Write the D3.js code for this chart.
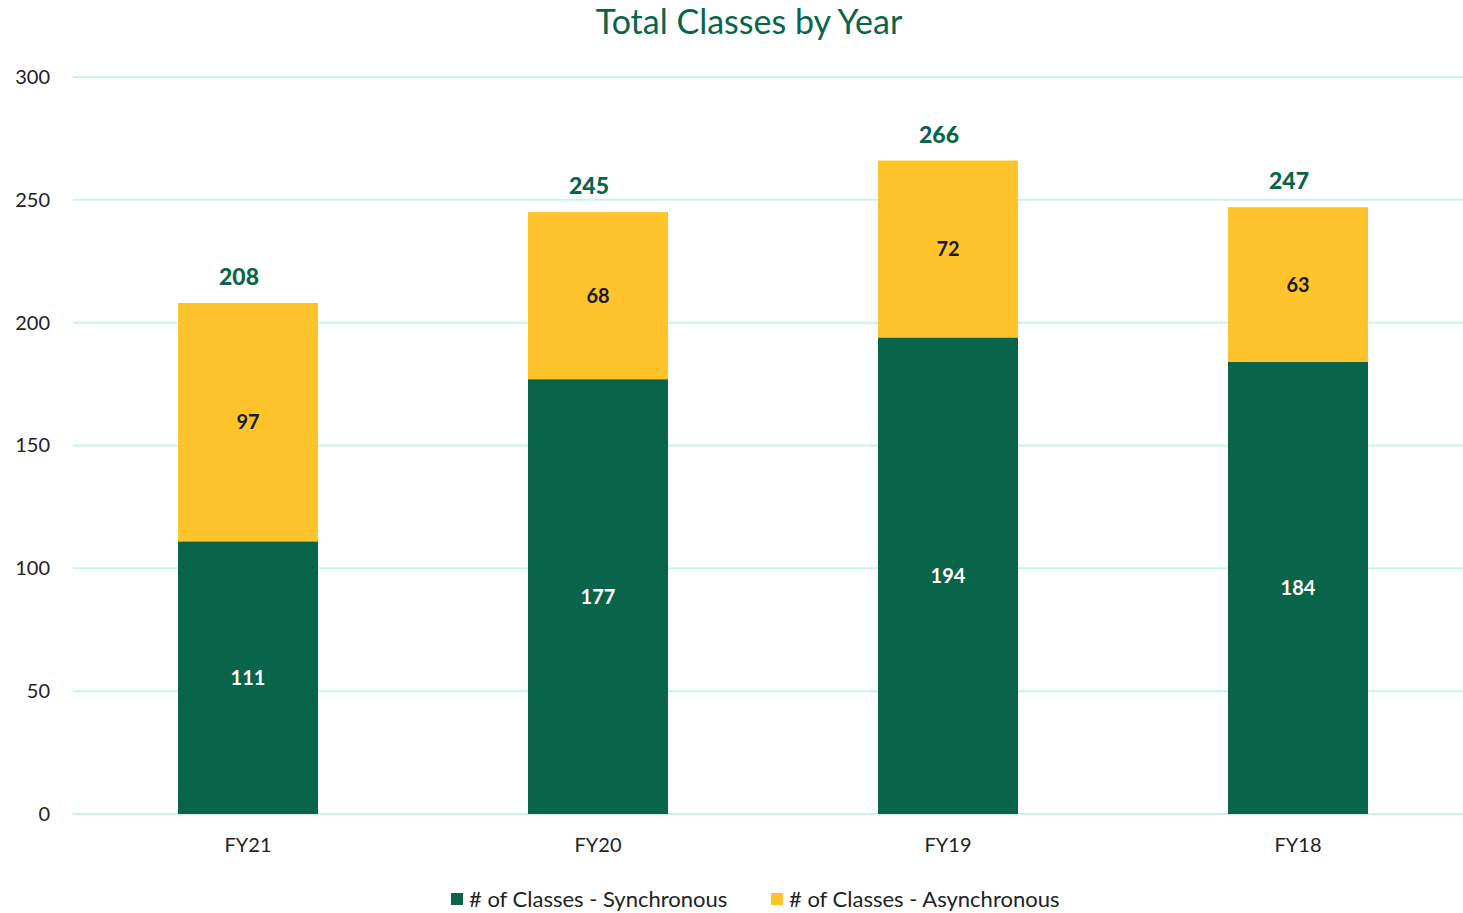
<!DOCTYPE html>
<html><head><meta charset="utf-8">
<script src="https://cdn.jsdelivr.net/npm/d3@7"></script>
<style>body{margin:0;background:#fff}svg{display:block}text{font-family:Lato,"Open Sans",sans-serif}</style>
</head><body><svg id="c" width="1463" height="913"></svg>
<script>
const categories = ["FY21","FY20","FY19","FY18"];
const synchronous = [111,177,194,184];
const asynchronous = [97,68,72,63];
const totals = [208,245,266,247];
const yTicks = [0,50,100,150,200,250,300];
const seriesNames = ["# of Classes - Synchronous","# of Classes - Asynchronous"];
const colors = ["#096549","#FFC42C"];

const svg = d3.select("#c");
const x = d3.scaleBand().domain(categories).range([73,1473]).paddingInner(0.6).paddingOuter(0.3);
const y = d3.scaleLinear().domain([0,300]).range([814,77]);

// gridlines
svg.append("g").selectAll("line").data(yTicks).join("line")
  .attr("x1",73).attr("x2",1463).attr("y1",d=>y(d)).attr("y2",d=>y(d))
  .attr("stroke","#c6f5e8").attr("stroke-width",2);

// y axis
const yAxis = d3.axisLeft(y).tickValues(yTicks).tickSize(0).tickPadding(0);
const ya = svg.append("g").attr("transform","translate(50,0)").call(yAxis);
ya.select(".domain").remove();
ya.selectAll("text").attr("font-size",20).attr("fill","#222").style("font-family","Lato");

// x axis
const xAxis = d3.axisBottom(x).tickSize(0).tickPadding(0);
const xa = svg.append("g").attr("transform","translate(0,838)").call(xAxis);
xa.select(".domain").remove();
xa.selectAll("text").attr("font-size",20).attr("fill","#222").attr("dy","0.71em").style("font-family","Lato");

const stacked = categories.map((c,i)=>({c, s:synchronous[i], a:asynchronous[i], t:totals[i]}));

// bars
svg.append("g").selectAll("rect").data(stacked).join("rect")
  .attr("x",d=>x(d.c)).attr("width",x.bandwidth())
  .attr("y",d=>y(d.s)).attr("height",d=>y(0)-y(d.s)).attr("fill",colors[0]);
svg.append("g").selectAll("rect").data(stacked).join("rect")
  .attr("x",d=>x(d.c)).attr("width",x.bandwidth())
  .attr("y",d=>y(d.s+d.a)).attr("height",d=>y(d.s)-y(d.s+d.a)).attr("fill",colors[1]);

// segment labels
svg.append("g").selectAll("text").data(stacked).join("text")
  .attr("x",d=>x(d.c)+x.bandwidth()/2).attr("y",d=>y(d.s/2)).attr("dy","0.35em")
  .attr("text-anchor","middle").attr("font-size",20).attr("font-weight",700).attr("fill","#fff")
  .text(d=>d.s);
svg.append("g").selectAll("text").data(stacked).join("text")
  .attr("x",d=>x(d.c)+x.bandwidth()/2).attr("y",d=>y(d.s+d.a/2)).attr("dy","0.35em")
  .attr("text-anchor","middle").attr("font-size",20).attr("font-weight",700).attr("fill","#1a1a1a")
  .text(d=>d.a);

// totals
svg.append("g").selectAll("text").data(stacked).join("text")
  .attr("x",d=>x(d.c)+x.bandwidth()/2-9).attr("y",d=>y(d.t)-26).attr("dy","0.35em")
  .attr("text-anchor","middle").attr("font-size",23).attr("font-weight",900).attr("fill","#096549")
  .text(d=>d.t);

// title
svg.append("text").attr("x",749).attr("y",34).attr("text-anchor","middle")
  .attr("font-size",34).attr("fill","#096549").text("Total Classes by Year");

// legend
const legX = [451,771];
const lg = svg.append("g").selectAll("g").data(seriesNames).join("g")
  .attr("transform",(d,i)=>`translate(${legX[i]},893)`);
lg.append("rect").attr("width",12).attr("height",12).attr("fill",(d,i)=>colors[i]);
lg.append("text").attr("x",18).attr("y",6).attr("dy","0.35em").attr("font-size",22).attr("fill","#222").text(d=>d);
</script></body></html>
